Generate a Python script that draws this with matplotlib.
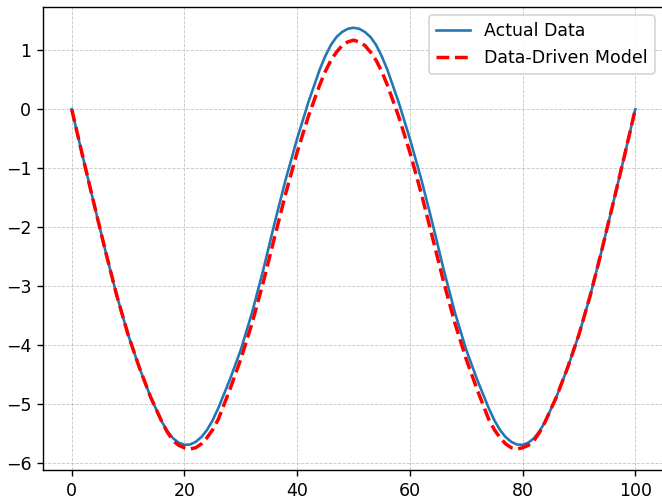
import matplotlib
matplotlib.use("Agg")
import matplotlib.pyplot as plt

# === Data ===
x = [0, 2, 4, 6, 8, 10, 12, 14,
     16, 17, 18, 19, 20, 21, 22, 23, 24, 25, 26,
     28, 30, 32, 34, 36, 38, 40, 42, 44,
     45, 46, 47, 48, 49, 50, 51, 52, 53, 54, 55, 56,
     58, 60, 62, 64, 66, 68, 70, 72, 74,
     75, 76, 77, 78, 79, 80, 81, 82, 83, 84,
     86, 88, 90, 92, 94, 96, 98, 100]

actual = [0.0, -0.82, -1.62, -2.41, -3.16, -3.82, -4.38, -4.88,
          -5.30, -5.46, -5.58, -5.655, -5.69, -5.685, -5.64, -5.56, -5.44, -5.275, -5.07,
          -4.60, -4.08, -3.45, -2.72, -1.93, -1.18, -0.50, 0.12, 0.67,
          0.90, 1.09, 1.225, 1.31, 1.363, 1.38, 1.363, 1.31, 1.225, 1.09, 0.90, 0.67,
          0.12, -0.50, -1.18, -1.93, -2.72, -3.45, -4.08, -4.60, -5.07,
          -5.275, -5.44, -5.56, -5.64, -5.685, -5.69, -5.655, -5.58, -5.46, -5.30,
          -4.88, -4.38, -3.82, -3.16, -2.41, -1.62, -0.82, 0.0]

model = [0.0, -0.82, -1.62, -2.41, -3.16, -3.82, -4.38, -4.88,
         -5.30, -5.48, -5.62, -5.70, -5.74, -5.76, -5.74, -5.675, -5.57, -5.435, -5.26,
         -4.77, -4.24, -3.63, -2.93, -2.17, -1.42, -0.73, -0.12, 0.41,
         0.64, 0.83, 0.97, 1.08, 1.14, 1.17, 1.14, 1.08, 0.97, 0.83, 0.64, 0.41,
         -0.12, -0.73, -1.42, -2.17, -2.93, -3.63, -4.24, -4.77, -5.26,
         -5.435, -5.57, -5.675, -5.74, -5.76, -5.74, -5.70, -5.62, -5.48, -5.30,
         -4.88, -4.38, -3.82, -3.16, -2.41, -1.62, -0.82, 0.0]

# === Plot ===
fig = plt.figure(figsize=(662 / 125, 502 / 125), dpi=125)
ax = fig.add_axes([43.5 / 662, 32 / 502, 620 / 662, 463.3 / 502])

ax.plot(x, actual, label="Actual Data")
ax.plot(x, model, "r--", linewidth=2, label="Data-Driven Model")

ax.legend()
ax.grid(True, linestyle="--", linewidth=0.5, alpha=0.7)
ax.set_xticks([0, 20, 40, 60, 80, 100])

fig.savefig("out.png", dpi=125)
print("Saved figure as: out.png")
